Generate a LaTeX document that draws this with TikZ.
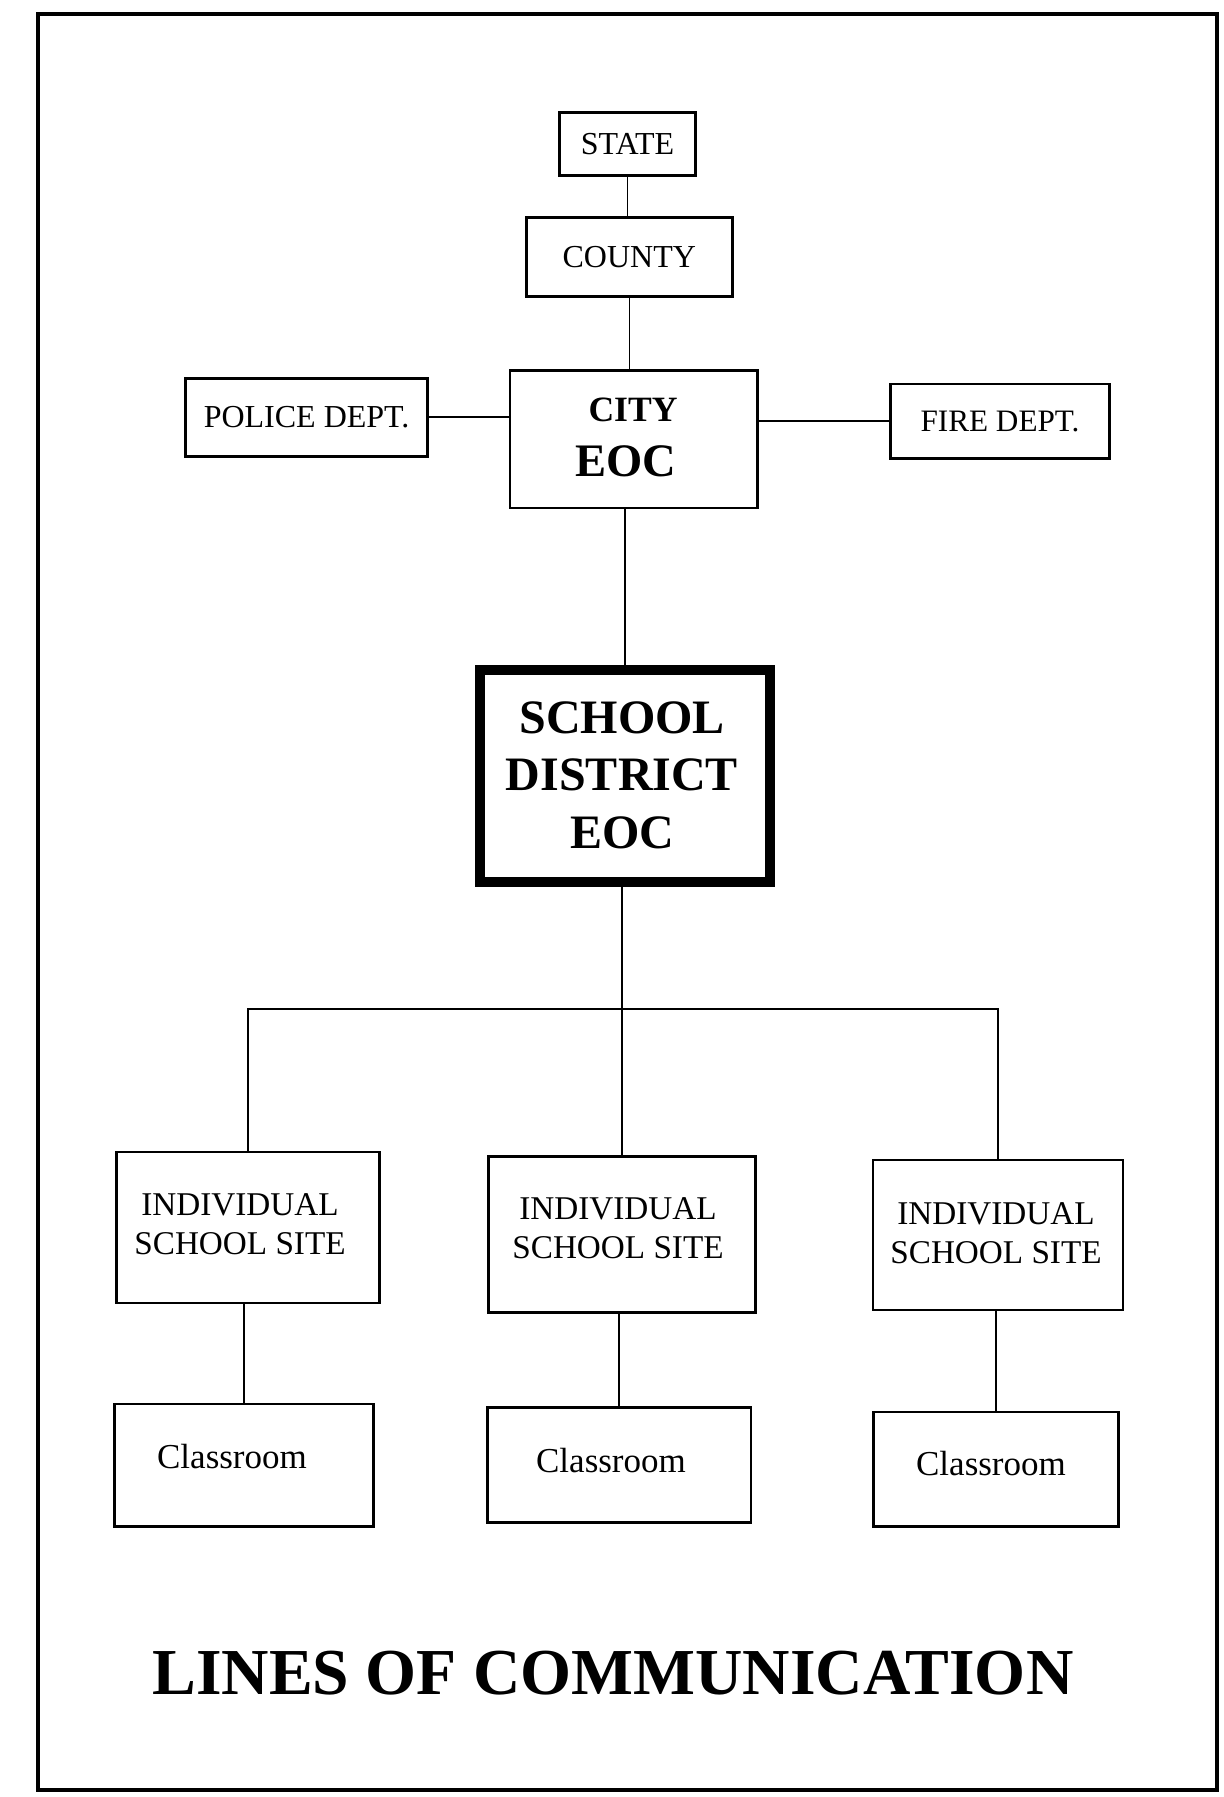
\documentclass[tikz,border=0pt]{standalone}
\usepackage{fontspec}
\setmainfont{Liberation Serif}
\begin{document}
\begin{tikzpicture}[x=0.5pt,y=-0.5pt,
  box/.style={draw, line width=1.3pt, inner sep=0pt, fill=white},
  conn/.style={line width=0.8pt},
  lbl/.style={inner sep=0pt, align=center},
  small/.style={font=\fontsize{16}{19.5}\selectfont},
  twol/.style={font=\fontsize{16.6}{19.5}\selectfont},
  cls/.style={font=\fontsize{17.5}{19}\selectfont},
]
\useasboundingbox (0,0) rectangle (1223,1797);
\draw[line width=2pt] (37.8,13.8) rectangle (1217,1790);

% boxes
\node[box, minimum width=68pt, minimum height=31.5pt, small] (state) at (627.5,143.9) {STATE};
\node[box, minimum width=103pt, minimum height=39.5pt, small] (county) at (629.3,257.3) {COUNTY};
\node[box, minimum width=121pt, minimum height=39pt, small] (police) at (306.6,417.2) {POLICE DEPT.};
\node[box, minimum width=123.75pt, minimum height=68.8pt] (city) at (633.9,439) {};
\node[lbl, font=\bfseries\fontsize{17.8}{20}\selectfont] (citya) at (633,410) {CITY};
\node[lbl, font=\bfseries\fontsize{23.3}{26}\selectfont] (cityb) at (626,461) {EOC};
\node[box, minimum width=109.5pt, minimum height=37.25pt, font=\fontsize{15.6}{19}\selectfont] (fire) at (1000,421.2) {FIRE DEPT.};
\node[box, line width=5pt, minimum width=145pt, minimum height=106pt] (sd) at (625,776) {};
\node[lbl, font=\bfseries\fontsize{24}{28.7}\selectfont] (sdt) at (622,775) {SCHOOL\\DISTRICT\\EOC};

\node[box, minimum width=131.25pt, minimum height=75.5pt] (issL) at (248,1227.6) {};
\node[box, minimum width=133.5pt, minimum height=78pt] (issM) at (622,1234.5) {};
\node[box, minimum width=125pt, minimum height=75pt] (issR) at (998,1235) {};
\node[lbl, twol] (issLt) at (240,1224) {INDIVIDUAL\\SCHOOL SITE};
\node[lbl, twol] (issMt) at (618,1228) {INDIVIDUAL\\SCHOOL SITE};
\node[lbl, twol] (issRt) at (996,1233) {INDIVIDUAL\\SCHOOL SITE};

\node[box, minimum width=129.5pt, minimum height=61.3pt] (clL) at (244.1,1465.4) {};
\node[box, minimum width=131.8pt, minimum height=57.35pt] (clM) at (619,1464.9) {};
\node[box, minimum width=122.5pt, minimum height=57.3pt] (clR) at (996,1469.4) {};
\node[lbl, cls] (clLt) at (232,1457) {Classroom};
\node[lbl, cls] (clMt) at (611,1461) {Classroom};
\node[lbl, cls] (clRt) at (991,1464) {Classroom};

\node[lbl, font=\bfseries\fontsize{32.8}{36}\selectfont] (title) at (613,1673) {LINES OF COMMUNICATION};

% connectors
\coordinate (bus) at (0,1008.7);
\draw[conn] (state.south) -- (state.south |- county.north);
\draw[conn] (county.south) -- (county.south |- city.north);
\draw[conn] (police.east) -- (police.east -| city.west);
\draw[conn] (fire.west) -- (fire.west -| city.east);
\draw[conn] (sd.north |- city.south) -- (sd.north);
\draw[conn] (sd.south -| issM.north) -- (issM.north);
\draw[conn] (issL.north) -- (issL.north |- bus) -- (issR.north |- bus) -- (issR.north);
\draw[conn] (issL.south -| clL.north) -- (clL.north);
\draw[conn] (issM.south -| clM.north) -- (clM.north);
\draw[conn] (issR.south -| clR.north) -- (clR.north);
\end{tikzpicture}
\end{document}
